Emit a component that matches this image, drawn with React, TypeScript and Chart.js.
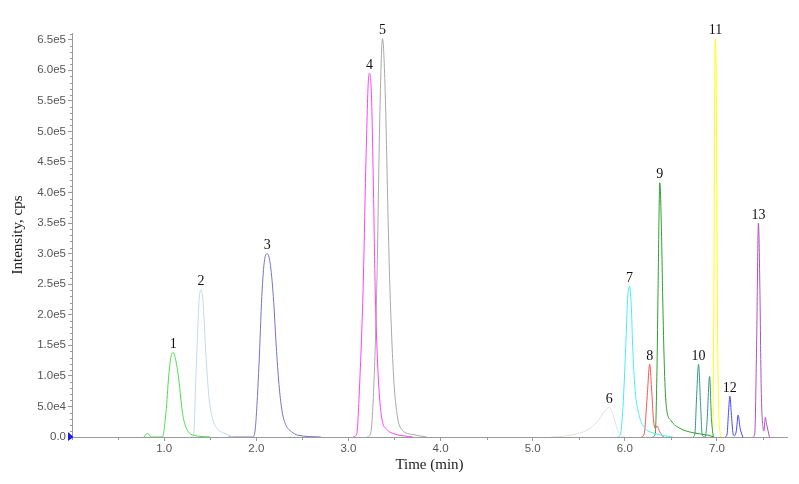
import React, { useEffect, useRef } from "react";
import { Chart, registerables } from "chart.js";

Chart.register(...registerables);

// ---- axis ticks ----
const xTickValues = [1, 2, 3, 4, 5, 6, 7];
const yTickValues = [0, 50000, 100000, 150000, 200000, 250000, 300000, 350000, 400000, 450000, 500000, 550000, 600000, 650000];
const xMinorStep = 0.5;
const yMinorStep = 10000;

// ---- peak labels ----
const peakLabels = ["1", "2", "3", "4", "5", "6", "7", "8", "9", "10", "11", "12", "13"];

// ---- series (time in min, intensity in cps) ----
const s1Time = [0.78, 0.82, 0.86, 0.98, 1.02, 1.05, 1.08, 1.10, 1.12, 1.16, 1.19, 1.21, 1.26, 1.32, 1.5];
const s1Int = [0, 6000, 0, 0, 40000, 100000, 135000, 138000, 130000, 93000, 50000, 30000, 9000, 3000, 0];

const s2Time = [1.30, 1.32, 1.35, 1.38, 1.40, 1.42, 1.455, 1.49, 1.53, 1.58, 1.64, 1.75];
const s2Int = [0, 5000, 120000, 225000, 241000, 225000, 130000, 60000, 28000, 13000, 7000, 0];

const s3Time = [1.70, 1.96, 1.99, 2.03, 2.06, 2.09, 2.12, 2.15, 2.185, 2.22, 2.25, 2.28, 2.32, 2.38, 2.45, 2.7];
const s3Int = [0, 0, 15000, 120000, 230000, 290000, 300000, 285000, 230000, 140000, 80000, 42000, 20000, 9000, 3000, 0];

const s4Time = [3.05, 3.09, 3.12, 3.16, 3.19, 3.22, 3.23, 3.25, 3.27, 3.29, 3.32, 3.36, 3.42, 3.5, 3.7];
const s4Int = [0, 5000, 80000, 246000, 450000, 590000, 595000, 560000, 420000, 246000, 110000, 33000, 12000, 5000, 0];

const s5Time = [3.20, 3.24, 3.28, 3.31, 3.34, 3.37, 3.40, 3.43, 3.45, 3.49, 3.53, 3.58, 3.7, 3.85];
const s5Int = [0, 5000, 100000, 260000, 520000, 652000, 560000, 360000, 246000, 100000, 35000, 12000, 4000, 0];

const s6Time = [5.2, 5.35, 5.5, 5.6, 5.7, 5.78, 5.83, 5.87, 5.92, 5.96, 6.0];
const s6Int = [0, 1500, 6000, 12000, 25000, 42000, 48500, 38000, 12000, 2000, 0];

const s7Time = [5.92, 5.95, 5.98, 6.01, 6.03, 6.05, 6.07, 6.085, 6.11, 6.16, 6.22, 6.3, 6.4, 6.52];
const s7Int = [0, 3000, 50000, 148000, 225000, 247000, 215000, 148000, 80000, 33000, 14000, 7000, 3000, 0];

const s8Time = [6.18, 6.21, 6.24, 6.27, 6.29, 6.31, 6.33, 6.35, 6.38, 6.42];
const s8Int = [0, 5000, 60000, 119000, 80000, 30000, 14000, 18000, 8000, 0];

const s9Time = [6.30, 6.33, 6.35, 6.36, 6.38, 6.40, 6.41, 6.43, 6.45, 6.5, 6.6, 6.74, 6.9, 6.97];
const s9Int = [0, 5000, 120000, 236000, 416000, 320000, 236000, 110000, 50000, 27000, 14000, 7000, 3000, 0];

const s10Time = [6.74, 6.76, 6.78, 6.80, 6.82, 6.84, 6.87, 6.89, 6.92, 6.94, 6.96];
const s10Int = [0, 5000, 70000, 119000, 60000, 3000, 0, 20000, 99000, 30000, 0];

const s11Time = [6.94, 6.955, 6.965, 6.975, 6.985, 6.995, 7.005, 7.02, 7.04];
const s11Int = [0, 20000, 200000, 560000, 652000, 500000, 200000, 40000, 0];

const s12Time = [7.09, 7.11, 7.125, 7.14, 7.155, 7.175, 7.19, 7.21, 7.23, 7.25, 7.28];
const s12Int = [0, 5000, 40000, 67000, 40000, 5000, 2000, 10000, 36000, 15000, 0];

const s13Time = [7.39, 7.41, 7.43, 7.45, 7.465, 7.48, 7.50, 7.51, 7.525, 7.54, 7.57];
const s13Int = [0, 5000, 150000, 350000, 250000, 80000, 15000, 10000, 32000, 20000, 0];

const seriesTimes = [s1Time, s2Time, s3Time, s4Time, s5Time, s6Time, s7Time, s8Time, s9Time, s10Time, s11Time, s12Time, s13Time];
const seriesInts = [s1Int, s2Int, s3Int, s4Int, s5Int, s6Int, s7Int, s8Int, s9Int, s10Int, s11Int, s12Int, s13Int];
const seriesColors = [
  "#4fdc4f", "#c4daea", "#7474c4", "#ff40ff", "#a8a8a8", "#dfe5da", "#44f0f0",
  "#ff5050", "#2ea02e", "#2e9985", "#ffff10", "#4848ff", "#b050c0",
];

const overlayPlugin = {
  id: "overlay",
  afterDraw(chart: any) {
    const ctx = chart.ctx;
    const xs = chart.scales.x;
    const ys = chart.scales.y;
    const area = chart.chartArea;
    ctx.save();
    // minor ticks
    ctx.strokeStyle = "#9a9a9a";
    ctx.lineWidth = 1;
    for (let v = 0; v <= xs.max + 1e-9; v += xMinorStep) {
      if (xTickValues.some((t) => Math.abs(t - v) < 1e-6)) continue;
      const px = Math.round(xs.getPixelForValue(v)) + 0.5;
      ctx.beginPath();
      ctx.moveTo(px, area.bottom);
      ctx.lineTo(px, area.bottom + 3);
      ctx.stroke();
    }
    for (let v = 0; v <= ys.max + 1e-6; v += yMinorStep) {
      if (yTickValues.some((t) => Math.abs(t - v) < 1)) continue;
      const py = Math.round(ys.getPixelForValue(v)) + 0.5;
      ctx.beginPath();
      ctx.moveTo(area.left - 2, py);
      ctx.lineTo(area.left, py);
      ctx.stroke();
    }
    // origin marker
    const x0 = xs.getPixelForValue(0);
    const y0 = ys.getPixelForValue(0);
    ctx.fillStyle = "#1c1ce0";
    ctx.beginPath();
    ctx.moveTo(x0 - 4, y0 - 5);
    ctx.lineTo(x0 + 1.5, y0);
    ctx.lineTo(x0 - 4, y0 + 4);
    ctx.closePath();
    ctx.fill();
    // peak labels
    ctx.fillStyle = "#111";
    ctx.font = "14px 'Liberation Serif'";
    ctx.textAlign = "center";
    ctx.textBaseline = "alphabetic";
    seriesInts.forEach((ints, i) => {
      let best = 0;
      ints.forEach((v, j) => { if (v > ints[best]) best = j; });
      const px = xs.getPixelForValue(seriesTimes[i][best]);
      const py = ys.getPixelForValue(ints[best]);
      ctx.fillText(peakLabels[i], px, py - 4.5);
    });
    ctx.restore();
  },
};

export default function App() {
  const canvasRef = useRef<HTMLCanvasElement | null>(null);

  useEffect(() => {
    const canvas = canvasRef.current;
    if (!canvas) return;
    const datasets = seriesTimes.map((times, i) => ({
      label: peakLabels[i],
      data: times.map((t, j) => ({ x: t, y: seriesInts[i][j] })),
      borderColor: seriesColors[i],
      backgroundColor: seriesColors[i],
      borderWidth: 1,
      pointRadius: 0,
      fill: false,
      cubicInterpolationMode: "monotone" as const,
    }));
    const chart = new Chart(canvas, {
      type: "line",
      data: { datasets },
      options: {
        animation: false,
        responsive: false,
        layout: { padding: { top: 33, right: 12, left: 0, bottom: 0 } },
        plugins: { legend: { display: false }, tooltip: { enabled: false } },
        scales: {
          x: {
            type: "linear",
            min: 0,
            max: 7.76,
            afterBuildTicks: (s: any) => { s.ticks = xTickValues.map((v) => ({ value: v })); },
            afterFit: (s: any) => { s.height = 47; },
            ticks: {
              callback: (v: any) => Number(v).toFixed(1),
              font: { family: "'Liberation Sans', Arial, sans-serif", size: 11.5 },
              color: "#555",
              padding: 1,
              maxRotation: 0,
              autoSkip: false,
            },
            grid: { drawOnChartArea: false, tickLength: 4, color: "#9a9a9a" },
            border: { color: "#9a9a9a" },
            title: {
              display: true,
              text: "Time (min)",
              font: { family: "'Liberation Serif', serif", size: 15 },
              color: "#222",
              padding: { top: 0, bottom: 10 },
            },
          },
          y: {
            type: "linear",
            min: 0,
            max: 661000,
            afterBuildTicks: (s: any) => { s.ticks = yTickValues.map((v) => ({ value: v })); },
            afterFit: (s: any) => { s.width = 72; },
            ticks: {
              callback: (v: any) => (Number(v) === 0 ? "0.0" : Number(v).toExponential(1).replace("+", "")),
              font: { family: "'Liberation Sans', Arial, sans-serif", size: 11.5 },
              color: "#555",
              padding: 2,
              autoSkip: false,
            },
            grid: { drawOnChartArea: false, tickLength: 4, color: "#9a9a9a" },
            border: { color: "#9a9a9a" },
            title: {
              display: true,
              text: "Intensity, cps",
              font: { family: "'Liberation Serif', serif", size: 15 },
              color: "#222",
              padding: { top: 9, bottom: 0 },
            },
          },
        },
      },
      plugins: [overlayPlugin],
    });
    return () => chart.destroy();
  }, []);

  return (
    <div style={{ position: "absolute", left: 0, top: 0, width: 799, height: 484, background: "#fff" }}>
      <canvas ref={canvasRef} width={799} height={484} style={{ display: "block" }} />
    </div>
  );
}
